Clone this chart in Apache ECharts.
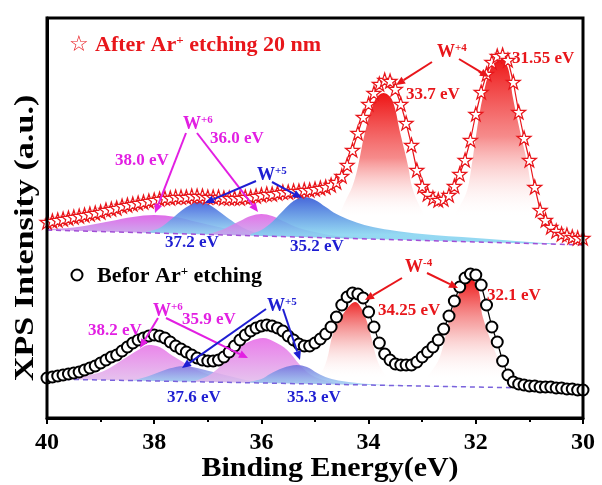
<!DOCTYPE html>
<html><head><meta charset="utf-8">
<script src="https://cdn.jsdelivr.net/npm/echarts@6/dist/echarts.min.js"></script>
<style>html,body{margin:0;padding:0;background:#fff}#c{width:602px;height:485px}</style>
</head><body><div id="c"></div>
<script>
// Binding energy grid (eV)
const energies = [40.0,39.9,39.8,39.7,39.6,39.5,39.4,39.3,39.2,39.1,
39.0,38.9,38.8,38.7,38.6,38.5,38.4,38.3,38.2,38.1,
38.0,37.9,37.8,37.7,37.6,37.5,37.4,37.3,37.2,37.1,
37.0,36.9,36.8,36.7,36.6,36.5,36.4,36.3,36.2,36.1,
36.0,35.9,35.8,35.7,35.6,35.5,35.4,35.3,35.2,35.1,
35.0,34.9,34.8,34.7,34.6,34.5,34.4,34.3,34.2,34.1,
34.0,33.9,33.8,33.7,33.6,33.5,33.4,33.3,33.2,33.1,
33.0,32.9,32.8,32.7,32.6,32.5,32.4,32.3,32.2,32.1,
32.0,31.9,31.8,31.7,31.6,31.5,31.4,31.3,31.2,31.1,
31.0,30.9,30.8,30.7,30.6,30.5,30.4,30.3,30.2,30.1,
30.0];
// After Ar+ etching 20 nm (stars), arbitrary units
const afterEtch = [196,197,198,199,200,201,202,203,204,205,
206,208,209,210,212,213,214,215,216,217,
218,219,220,220,221,221,221,222,222,222,
221,221,221,220,220,220,220,221,221,222,
223,224,224,225,226,226,227,227,228,228,
229,230,231,233,236,242,253,268,285,301,
314,325,334,338,337,329,314,295,273,248,
232,224,220,218,219,223,232,244,258,278,
304,326,344,356,362,363,358,336,306,280,
258,231,208,198,191,187,184,183,181,180,
180];
// Before Ar+ etching (circles)
const beforeEtch = [40,41,42,43,44,45,46,48,50,52,
55,58,61,63,67,71,75,78,80,82,
83,82,80,76,72,69,66,63,60,58,
57,57,58,61,66,72,78,83,87,90,
92,93,92,90,87,82,78,74,72,72,
75,79,84,91,101,113,121,125,124,120,
106,91,75,64,58,54,53,53,53,56,
61,66,71,78,89,102,117,131,140,144,
143,133,113,91,76,57,43,36,34,33,
32,32,31,31,31,30,30,29,29,28,
28];
// Fitted baselines
const upperBaseline = [[40,188],[30,173]];
const lowerBaseline = [[40,39],[30,29]];
// Fitted components, after etching
const upW6a = [[40.0,189],[39.6,190],[39.2,193],[38.8,197],[38.4,201],[38.0,203],[37.6,201],[37.2,196],[36.8,191],[36.4,186],[36.0,183],[35.6,182]];
const upW5a = [[38.2,185.5],[37.9,190],[37.7,198],[37.5,207],[37.3,214],[37.2,216],[37.0,214],[36.8,207],[36.6,199],[36.4,192],[36.2,187],[36.0,184],[35.7,182.5]];
const upW6b = [[37.0,183.5],[36.7,189],[36.4,197],[36.2,202],[36.0,204],[35.8,202],[35.6,197],[35.3,190],[35.0,186],[34.6,182],[34.0,180]];
const upW5b = [[36.2,184],[36.0,188],[35.8,196],[35.6,207],[35.4,217],[35.2,221],[35.0,218],[34.8,211],[34.6,204],[34.3,197],[34.0,192],[33.6,188],[33.0,184],[32.0,180],[31.0,176],[30.5,174.5]];
const upW4a = [[34.6,196],[34.45,215],[34.3,232],[34.2,251],[34.07,285],[33.88,318],[33.72,325],[33.56,318],[33.41,285],[33.26,251],[33.19,231],[33.05,212],[32.9,198]];
const upW4b = [[32.5,196],[32.3,212],[32.16,228],[32.07,255],[31.98,288],[31.87,321],[31.72,350],[31.55,361],[31.4,350],[31.31,321],[31.18,288],[31.04,255],[30.95,228],[30.8,208],[30.6,196]];
// Fitted components, before etching
const loW6a = [[40.0,39],[39.5,40.5],[39.2,43],[38.9,48],[38.6,58],[38.3,68],[38.1,73],[37.9,71],[37.65,62],[37.4,54],[37.2,48],[36.9,42],[36.6,37],[36.3,35.5]];
const loW5a = [[38.4,37.5],[38.1,42],[37.8,48],[37.6,51],[37.45,52],[37.2,50],[36.9,46],[36.6,42],[36.3,38],[36.0,35.5],[35.6,35]];
const loW6b = [[37.3,36],[37.0,42],[36.8,50],[36.6,61],[36.4,71],[36.2,77],[35.97,80],[35.75,76],[35.52,68],[35.28,53],[35.1,44],[34.9,39],[34.6,35],[34.2,33]];
const loW5b = [[36.3,35.5],[36.0,39],[35.84,44],[35.6,50],[35.34,53],[35.15,51],[34.96,45],[34.75,40],[34.5,37],[34.0,34],[33.0,32],[32.0,31]];
const loW4a = [[35.1,34],[34.9,44],[34.78,58],[34.66,85],[34.45,106],[34.25,116],[34.1,106],[33.97,85],[33.84,58],[33.7,44],[33.5,34]];
const loW4b = [[33.0,36],[32.85,45],[32.67,61],[32.48,101],[32.3,126],[32.1,140],[31.95,128],[31.87,101],[31.6,61],[31.45,44],[31.3,34]];
const xTicks = [30, 40, 2];

const RED='#e8161b', MAG='#e21fe2', BLUE='#1e1ed2';
const SERIF="'Times New Roman','Liberation Serif',serif";
function grad(stops){return {type:'linear',x:0,y:0,x2:0,y2:1,colorStops:stops.map(s=>({offset:s[0],color:s[1]}))};}
function comp(data, stops){
  return {type:'line', data, symbol:'none', smooth:0.35, lineStyle:{width:0}, areaStyle:{color:grad(stops), opacity:1}, silent:true, animation:false};
}
function cover(data, color){
  return {type:'line', data, symbol:'none', lineStyle:{width:1.5,type:[5,4],color}, areaStyle:{color:'#ffffff',opacity:1}, silent:true, animation:false};
}
const STAR='path://M50,2 L61.8,37.6 L99,37.6 L68.9,59.7 L80.3,95.3 L50,73.2 L19.7,95.3 L31.1,59.7 L1,37.6 L38.2,37.6 Z';

// annotation arrows (drawn as graphic line + head)
function arrow(x1,y1,x2,y2,color){
  const dx=x2-x1, dy=y2-y1, L=Math.hypot(dx,dy), ux=dx/L, uy=dy/L, hl=9, hw=4;
  const bx=x2-ux*hl, by=y2-uy*hl;
  return [
    {type:'line', z:100, silent:true, shape:{x1,y1,x2:bx,y2:by}, style:{stroke:color,lineWidth:2}},
    {type:'polygon', z:100, silent:true, shape:{points:[[x2,y2],[bx-uy*hw,by+ux*hw],[bx+uy*hw,by-ux*hw]]}, style:{fill:color}}
  ];
}
const arrows = [].concat(
  arrow(432,62,396,85,RED), arrow(459,59,489,77,RED),
  arrow(186,133,155,213,MAG), arrow(197,133,258,212,MAG),
  arrow(256,181,205,203,BLUE), arrow(272,182,302,198,BLUE),
  arrow(402,278,365,300,RED), arrow(427,273,458,288,RED),
  arrow(158,318,140,348,MAG), arrow(166,318,248,358,MAG),
  arrow(266,309,182,368,BLUE), arrow(283,309,300,360,BLUE)
);

function label(x,y,base,sup,color,size){
  const s = Math.round(size*0.62);
  return {type:'text', x, y, z:100, silent:true, style:{
    text: sup ? '{a|'+base+'}{s|'+sup+'}' : '{a|'+base+'}',
    rich:{a:{fontFamily:SERIF,fontWeight:'bold',fontSize:size,fill:color},
          s:{fontFamily:SERIF,fontWeight:'bold',fontSize:s,fill:color,verticalAlign:'top'}},
    verticalAlign:'middle', align:'left'}};
}
const texts = [
  {type:'text', x:69, y:45, z:100, style:{text:'\u2606', font:'22px "DejaVu Sans"', fill:RED, verticalAlign:'middle'}},
  {type:'text', x:95, y:45, z:100, style:{text:'{a|After Ar}{s|+}{a| etching 20 nm}', verticalAlign:'middle', rich:{a:{fontFamily:SERIF,fontWeight:'bold',fontSize:22,fill:RED},s:{fontFamily:SERIF,fontWeight:'bold',fontSize:13,fill:RED,verticalAlign:'top'}}}},
  {type:'circle', z:100, shape:{cx:77,cy:275,r:5.5}, style:{fill:'#fff',stroke:'#000',lineWidth:2}},
  {type:'text', x:97, y:276, z:100, style:{text:'{a|Befor Ar}{s|+}{a| etching}', verticalAlign:'middle', rich:{a:{fontFamily:SERIF,fontWeight:'bold',fontSize:22,fill:'#000'},s:{fontFamily:SERIF,fontWeight:'bold',fontSize:13,fill:'#000',verticalAlign:'top'}}}},
  label(437,52,'W','+4',RED,18), label(512,59,'31.55 eV','',RED,17), label(406,95,'33.7 eV','',RED,17),
  label(183,124,'W','+6',MAG,18), label(115,161,'38.0 eV','',MAG,17), label(210,139,'36.0 eV','',MAG,17),
  label(257,175,'W','+5',BLUE,18), label(165,243,'37.2 eV','',BLUE,17), label(290,247,'35.2 eV','',BLUE,17),
  label(405,267,'W','-4',RED,18), label(378,311,'34.25 eV','',RED,17), label(487,296,'32.1 eV','',RED,17),
  label(153,311,'W','+6',MAG,18), label(88,331,'38.2 eV','',MAG,17), label(182,320,'35.9 eV','',MAG,17),
  label(267,306,'W','+5',BLUE,18), label(167,398,'37.6 eV','',BLUE,17), label(287,398,'35.3 eV','',BLUE,17),
  {type:'text', x:330, y:469, z:100, scaleX:1.07, style:{text:'Binding Energy(eV)', font:'bold 28px '+SERIF, fill:'#000', align:'center', verticalAlign:'middle'}},
  {type:'text', x:26, y:238, z:100, rotation:Math.PI/2, scaleX:1.22, style:{text:'XPS Intensity (a.u.)', font:'bold 28px '+SERIF, fill:'#000', align:'center', verticalAlign:'middle'}}
].concat(arrows);

const chart = echarts.init(document.getElementById('c'), null, {renderer:'canvas'});
chart.setOption({
  backgroundColor:'#fff',
  animation:false,
  grid:{left:47, right:19, top:18, bottom:67, show:true, borderColor:'#000', borderWidth:3, z:5},
  xAxis:{type:'value', inverse:true, min:xTicks[0], max:xTicks[1], interval:xTicks[2], z:6,
    axisLine:{lineStyle:{color:'#000',width:3}},
    axisTick:{length:6, lineStyle:{width:2,color:'#000'}},
    minorTick:{show:true, splitNumber:2, length:4, lineStyle:{width:2,color:'#000'}},
    splitLine:{show:false},
    axisLabel:{fontFamily:SERIF, fontWeight:'bold', fontSize:24, color:'#000', margin:13}},
  yAxis:{type:'value', min:0, max:400, axisLine:{show:true,lineStyle:{color:'#000',width:3}}, axisTick:{show:false}, axisLabel:{show:false}, splitLine:{show:false}},
  series:[
    comp(upW6a, [[0,'rgba(222,100,232,0.95)'],[0.09,'rgba(200,160,235,0.9)'],[1,'rgba(200,160,235,0.9)']]),
    comp(upW5a, [[0,'rgba(60,90,220,0.9)'],[0.14,'rgba(140,210,240,0.85)'],[1,'rgba(140,210,240,0.85)']]),
    comp(upW6b, [[0,'rgba(225,100,230,0.9)'],[0.1,'rgba(200,160,235,0.85)'],[1,'rgba(200,160,235,0.85)']]),
    comp(upW5b, [[0,'rgba(55,90,215,0.92)'],[0.17,'rgba(130,210,240,0.85)'],[1,'rgba(130,210,240,0.85)']]),
    comp(upW4a, [[0,'rgba(238,20,20,1)'],[0.2,'rgba(244,110,110,0.8)'],[0.38,'rgba(255,240,240,0)'],[1,'rgba(255,255,255,0)']]),
    comp(upW4b, [[0,'rgba(238,20,20,1)'],[0.22,'rgba(244,110,110,0.8)'],[0.44,'rgba(255,240,240,0)'],[1,'rgba(255,255,255,0)']]),
    cover(upperBaseline, '#a24ed6'),
    comp(loW6a, [[0,'rgba(232,120,232,0.9)'],[0.5,'rgba(225,185,235,0.85)'],[1,'rgba(225,185,235,0.85)']]),
    comp(loW5a, [[0,'rgba(130,120,225,0.85)'],[0.28,'rgba(150,200,240,0.8)'],[1,'rgba(150,200,240,0.8)']]),
    comp(loW6b, [[0,'rgba(232,110,232,0.9)'],[0.55,'rgba(225,185,235,0.85)'],[1,'rgba(225,185,235,0.85)']]),
    comp(loW5b, [[0,'rgba(110,110,220,0.85)'],[0.35,'rgba(150,200,240,0.8)'],[1,'rgba(150,200,240,0.8)']]),
    comp(loW4a, [[0,'rgba(238,40,40,1)'],[0.3,'rgba(244,150,150,0.7)'],[0.65,'rgba(255,240,240,0)'],[1,'rgba(255,255,255,0)']]),
    comp(loW4b, [[0,'rgba(238,20,20,1)'],[0.35,'rgba(244,140,140,0.7)'],[0.72,'rgba(255,240,240,0)'],[1,'rgba(255,255,255,0)']]),
    cover(lowerBaseline, '#7a62dc'),
    {type:'line', name:'After', data:energies.map((e,i)=>[e,afterEtch[i]]), symbol:STAR, symbolSize:14, showAllSymbol:true,
      itemStyle:{color:'#fff', borderColor:RED, borderWidth:1.2}, lineStyle:{color:RED,width:1.2}, z:3, animation:false},
    {type:'line', name:'Before', data:energies.map((e,i)=>[e,beforeEtch[i]]), symbol:'circle', symbolSize:11, showAllSymbol:true,
      itemStyle:{color:'#fff', borderColor:'#000', borderWidth:2}, lineStyle:{color:'#000',width:1.2}, z:3, animation:false}
  ],
  graphic: texts
});
</script></body></html>
